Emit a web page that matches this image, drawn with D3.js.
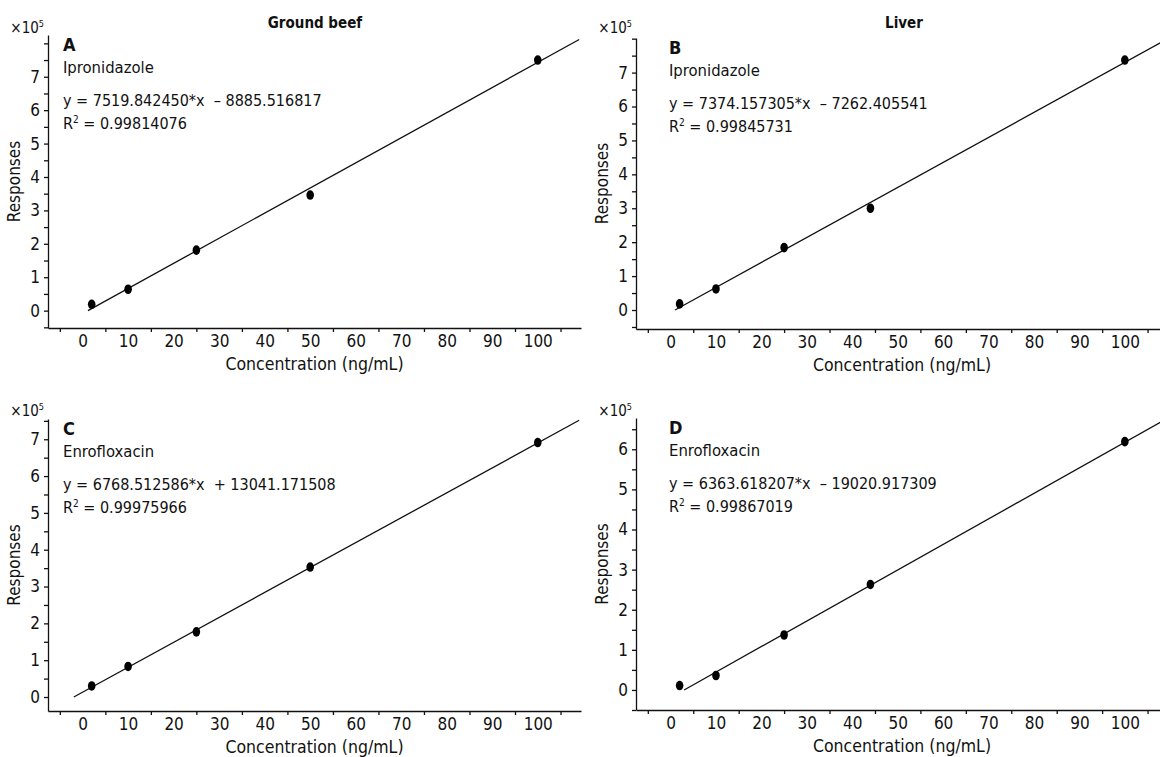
<!DOCTYPE html>
<html>
<head>
<meta charset="utf-8">
<script src="https://cdn.jsdelivr.net/npm/d3@7"></script>
<style>
  body { margin: 0; background: #fff; }
  svg text { font-family: "DejaVu Sans Condensed", "DejaVu Sans", sans-serif; font-stretch: condensed; fill: #111; }
  .axis path, .axis line { stroke: #111; stroke-width: 1.3; }
  .axis text { font-family: "DejaVu Sans Condensed", "DejaVu Sans", sans-serif; font-size: 17px; fill: #111; }
</style>
</head>
<body>
<div id="chart"></div>
<script>

// Calibration points: concentration (ng/mL)
var concBeef = [2, 10, 25, 50, 100];
var concLiver = [2, 10, 25, 44, 100];

// Responses, in units of 10^5
var respA = [0.19, 0.64, 1.81, 3.46, 7.50];
var respB = [0.18, 0.62, 1.84, 3.00, 7.37];
var respC = [0.30, 0.83, 1.77, 3.53, 6.91];
var respD = [0.11, 0.36, 1.37, 2.63, 6.19];

// Fit results printed in each panel
var panelLetters = ["A", "B", "C", "D"];
var compounds = ["Ipronidazole", "Ipronidazole", "Enrofloxacin", "Enrofloxacin"];
var slopes = [7519.842450, 7374.157305, 6768.512586, 6363.618207];
var intercepts = [-8885.516817, -7262.405541, 13041.171508, -19020.917309];
var rSquared = ["0.99814076", "0.99845731", "0.99975966", "0.99867019"];

// Column headers
var matrices = ["Ground beef", "Liver"];

// Tick labels
var xLabels = d3.range(0, 101, 10);
var xTicks = d3.range(-5, 106, 10);
var yLabels7 = d3.range(0, 8);
var yLabels6 = d3.range(0, 7);

var width = 1160,
    height = 757;

var svg = d3.select("#chart").append("svg")
    .attr("width", width)
    .attr("height", height);

// Panel boxes (pixels) and axis extents
var panels = [
  { i: 0, conc: concBeef, resp: respA, left: 48, right: 581, top: 35, bottom: 328, yDom: [-0.52, 8.25], yLabels: yLabels7, sciY: 33 },
  { i: 1, conc: concLiver, resp: respB, left: 636, right: 1168, top: 38, bottom: 329, yDom: [-0.56, 8.02], yLabels: yLabels7, sciY: 33 },
  { i: 2, conc: concBeef, resp: respC, left: 48, right: 581, top: 419, bottom: 711, yDom: [-0.38, 7.55], yLabels: yLabels7, sciY: 416 },
  { i: 3, conc: concLiver, resp: respD, left: 636, right: 1168, top: 418, bottom: 710, yDom: [-0.5, 6.78], yLabels: yLabels6, sciY: 416 }
];

var xDom = [-7.6, 109.5];

panels.forEach(function(p) {

  var x = d3.scaleLinear().domain(xDom).range([p.left, p.right]);
  var y = d3.scaleLinear().domain(p.yDom).range([p.bottom, p.top]);

  var g = svg.append("g");

  // Y axis: ticks every 0.5, labels on integers
  var yTicks = d3.range(Math.ceil(p.yDom[0] * 2) / 2, p.yDom[1] + 0.001, 0.5);
  g.append("g")
    .attr("class", "axis")
    .attr("transform", "translate(" + p.left + ",0)")
    .call(d3.axisLeft(y)
      .tickValues(yTicks)
      .tickSize(4)
      .tickSizeOuter(0)
      .tickPadding(4)
      .tickFormat(function(d) { return p.yLabels.indexOf(d) >= 0 ? d : ""; }));

  // X axis: tick marks between the labels
  g.append("g")
    .attr("class", "axis")
    .attr("transform", "translate(0," + p.bottom + ")")
    .call(d3.axisBottom(x)
      .tickValues(xTicks)
      .tickSize(4)
      .tickSizeOuter(0)
      .tickFormat(""));

  var xl = g.append("g")
    .attr("class", "axis")
    .attr("transform", "translate(0," + p.bottom + ")")
    .call(d3.axisBottom(x)
      .tickValues(xLabels)
      .tickSize(0)
      .tickPadding(7));
  xl.select(".domain").remove();

  // Axis titles
  g.append("text")
    .attr("x", (p.left + p.right) / 2)
    .attr("y", p.bottom + 42)
    .attr("text-anchor", "middle")
    .style("font-size", "17.5px")
    .text("Concentration (ng/mL)");

  g.append("text")
    .attr("transform", "translate(" + (p.left - 28) + "," + ((p.top + p.bottom) / 2) + ") rotate(-90)")
    .attr("text-anchor", "middle")
    .style("font-size", "17px")
    .text("Responses");

  // x10^5 multiplier
  var sci = g.append("text")
    .attr("x", p.left - 4)
    .attr("y", p.sciY)
    .attr("text-anchor", "end")
    .style("font-size", "15px");
  sci.append("tspan").text("\u00d710");
  sci.append("tspan").attr("dy", -6).style("font-size", "9px").text("5");

  // Fit line, from x-intercept to the end of the axis
  var m = slopes[p.i], b = intercepts[p.i];
  var x0 = -b / m;
  var fit = [x0, xDom[1] - 0.4].map(function(c) { return [c, (m * c + b) / 1e5]; });

  g.append("path")
    .datum(fit)
    .attr("fill", "none")
    .attr("stroke", "#111")
    .attr("stroke-width", 1.3)
    .attr("d", d3.line().x(function(d) { return x(d[0]); }).y(function(d) { return y(d[1]); }));

  // Data points
  g.selectAll("ellipse")
    .data(p.conc.map(function(c, k) { return [c, p.resp[k]]; }))
    .enter().append("ellipse")
    .attr("cx", function(d) { return x(d[0]); })
    .attr("cy", function(d) { return y(d[1]); })
    .attr("rx", 3.8)
    .attr("ry", 4.8)
    .attr("fill", "#000");

  // Panel annotations
  var tx = p.i % 2 === 0 ? p.left + 15 : p.left + 33;
  var ty = p.top;

  g.append("text")
    .attr("x", tx)
    .attr("y", ty + 16)
    .style("font-size", "18px")
    .style("font-weight", "bold")
    .text(panelLetters[p.i]);

  g.append("text")
    .attr("x", tx)
    .attr("y", ty + 38)
    .style("font-size", "16.5px")
    .text(compounds[p.i]);

  g.append("text")
    .attr("x", tx)
    .attr("y", ty + 71)
    .style("font-size", "16px")
    .style("white-space", "pre")
    .text("y = " + m.toFixed(6) + "*x  " + (b < 0 ? "\u2013 " : "+ ") + Math.abs(b).toFixed(6));

  var r = g.append("text")
    .attr("x", tx)
    .attr("y", ty + 94)
    .style("font-size", "16px");
  r.append("tspan").text("R");
  r.append("tspan").attr("dy", -6).style("font-size", "10px").text("2");
  r.append("tspan").attr("dy", 6).text(" = " + rSquared[p.i]);
});

// Column headers
svg.selectAll(".header")
  .data(matrices)
  .enter().append("text")
  .attr("class", "header")
  .attr("x", function(d, i) { return i === 0 ? 315 : 904; })
  .attr("y", 28)
  .attr("text-anchor", "middle")
  .style("font-size", "15px")
  .style("font-weight", "bold")
  .text(function(d) { return d; });

</script>
</body>
</html>
